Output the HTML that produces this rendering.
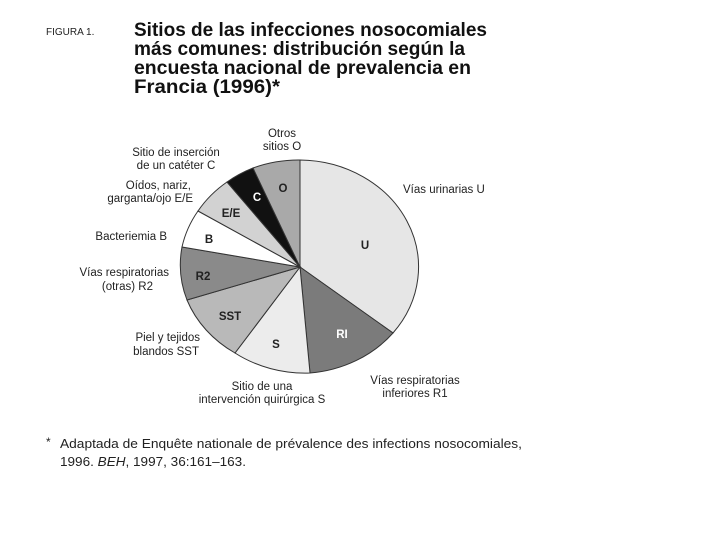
<!DOCTYPE html>
<html><head><meta charset="utf-8"><style>
html,body{margin:0;padding:0;background:#fff;}
svg{display:block;}
text{font-family:"Liberation Sans",sans-serif;fill:#222;}
.l{font-size:11.5px;}
.b{font-size:11.5px;font-weight:bold;}
.t{font-size:19.5px;font-weight:bold;fill:#111;}
</style></head><body>
<svg width="720" height="540" viewBox="0 0 720 540">
<text x="46" y="35" font-size="10" fill="#333">FIGURA 1.</text>
<text class="t" x="134" y="36" textLength="353" lengthAdjust="spacingAndGlyphs">Sitios de las infecciones nosocomiales</text>
<text class="t" x="134" y="55" textLength="331" lengthAdjust="spacingAndGlyphs">más comunes: distribución según la</text>
<text class="t" x="134" y="74" textLength="337" lengthAdjust="spacingAndGlyphs">encuesta nacional de prevalencia en</text>
<text class="t" x="134" y="93" textLength="146" lengthAdjust="spacingAndGlyphs">Francia (1996)*</text>

<g stroke="#333" stroke-width="1">
<path d="M300,267 L300,160 A120,107 0 0 1 393,333 Z" fill="#e6e6e6"/>
<path d="M300,267 L393,333 A120,107 0 0 1 310,373 Z" fill="#7b7b7b"/>
<path d="M300,267 L310,373 A120,107 0 0 1 235,353 Z" fill="#ececec"/>
<path d="M300,267 L235,353 A120,107 0 0 1 187,300 Z" fill="#b9b9b9"/>
<path d="M300,267 L187,300 A120,107 0 0 1 182,247 Z" fill="#8a8a8a"/>
<path d="M300,267 L182,247 A120,107 0 0 1 198,211 Z" fill="#ffffff"/>
<path d="M300,267 L198,211 A120,107 0 0 1 227,182 Z" fill="#d2d2d2"/>
<path d="M300,267 L227,182 A120,107 0 0 1 253,168 Z" fill="#111"/>
<path d="M300,267 L253,168 A120,107 0 0 1 300,160 Z" fill="#a9a9a9"/>
</g>

<g text-anchor="middle">
<text class="b" x="283" y="192">O</text>
<text class="b" x="257" y="201" style="fill:#fff">C</text>
<text class="b" x="231" y="217">E/E</text>
<text class="b" x="209" y="243">B</text>
<text class="b" x="203" y="280">R2</text>
<text class="b" x="230" y="320">SST</text>
<text class="b" x="276" y="348">S</text>
<text class="b" x="342" y="338" style="fill:#fff">RI</text>
<text class="b" x="365" y="249">U</text>

<text class="l" x="282" y="137">Otros</text>
<text class="l" x="282" y="150">sitios O</text>
<text class="l" x="176" y="156">Sitio de inserción</text>
<text class="l" x="176" y="169">de un catéter C</text>
<text class="l" x="262" y="390">Sitio de una</text>
<text class="l" x="262" y="403">intervención quirúrgica S</text>
<text class="l" x="415" y="384">Vías respiratorias</text>
<text class="l" x="415" y="397">inferiores R1</text>
</g>
<g text-anchor="end">
<text class="l" x="191" y="189">Oídos, nariz,</text>
<text class="l" x="193" y="202">garganta/ojo E/E</text>
<text class="l" x="167" y="240">Bacteriemia B</text>
<text class="l" x="169" y="276">Vías respiratorias</text>
<text class="l" x="153" y="290">(otras) R2</text>
<text class="l" x="200" y="341">Piel y tejidos</text>
<text class="l" x="199" y="355">blandos SST</text>
</g>
<text class="l" x="403" y="193">Vías urinarias U</text>

<text x="46" y="446" font-size="12">*</text>
<text x="60" y="448" font-size="13" textLength="462" lengthAdjust="spacingAndGlyphs">Adaptada de Enquête nationale de prévalence des infections nosocomiales,</text>
<text x="60" y="466" font-size="13" textLength="186" lengthAdjust="spacingAndGlyphs">1996. <tspan font-style="italic">BEH</tspan>, 1997, 36:161–163.</text>
</svg>
</body></html>
